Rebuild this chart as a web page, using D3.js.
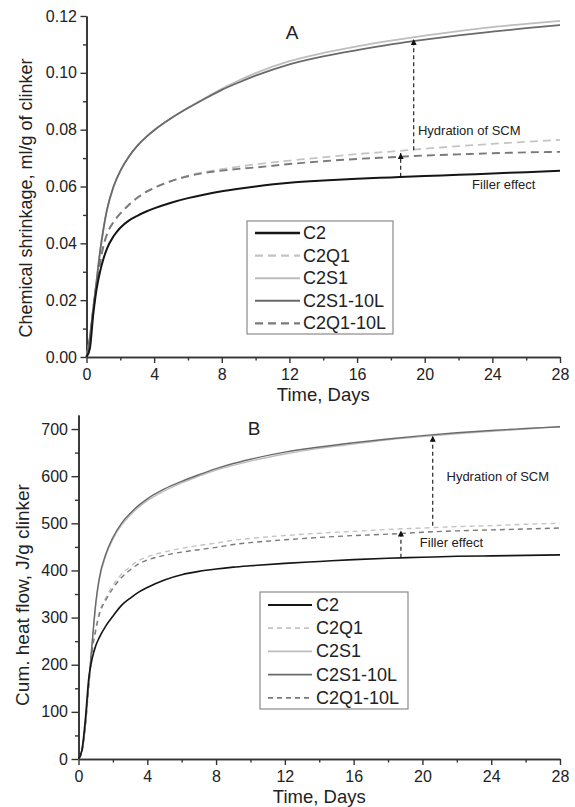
<!DOCTYPE html>
<html>
<head>
<meta charset="utf-8">
<script src="https://cdn.jsdelivr.net/npm/d3@7"></script>
<style>
  html, body { margin: 0; padding: 0; background: #fff; }
  svg { display: block; }
  text { font-family: "Liberation Sans", Arial, Helvetica, sans-serif; fill: #222; }
</style>
</head>
<body>
<svg id="chart" width="575" height="807"></svg>
<script>
// ---------------- DATA ----------------
const seriesNames = ["C2", "C2Q1", "C2S1", "C2S1-10L", "C2Q1-10L"];
const days = [0, 0.2, 0.4, 0.6, 0.8, 1.0, 1.2, 1.6, 2, 2.5, 3, 3.5, 4, 5, 6, 7, 8, 9, 10, 12, 14, 16, 18, 20, 22, 24, 26, 28];

// Panel A: chemical shrinkage, ml/g of clinker
const shrinkC2     = [0, 0.003, 0.015, 0.024, 0.030, 0.0345, 0.038, 0.0425, 0.0455, 0.048, 0.0497, 0.0511, 0.0523, 0.0543, 0.0559, 0.0572, 0.0583, 0.0592, 0.0600, 0.0613, 0.0621, 0.0627, 0.0632, 0.0637, 0.0641, 0.0646, 0.0650, 0.0655];
const shrinkC2Q1   = [0, 0.006, 0.017, 0.026, 0.033, 0.039, 0.0430, 0.0475, 0.0505, 0.0535, 0.0560, 0.0580, 0.0595, 0.0619, 0.0638, 0.0651, 0.0661, 0.0670, 0.0678, 0.0691, 0.0703, 0.0714, 0.0723, 0.0733, 0.0742, 0.0750, 0.0757, 0.0764];
const shrinkC2S1   = [0, 0.007, 0.017, 0.027, 0.037, 0.045, 0.0515, 0.0600, 0.0655, 0.0705, 0.0743, 0.0773, 0.0798, 0.0840, 0.0877, 0.0911, 0.0944, 0.0973, 0.0999, 0.1041, 0.1070, 0.1093, 0.1113, 0.1131, 0.1147, 0.1161, 0.1172, 0.1183];
const shrinkC2S1L  = [0, 0.007, 0.017, 0.027, 0.037, 0.045, 0.0515, 0.0600, 0.0655, 0.0705, 0.0743, 0.0773, 0.0798, 0.0840, 0.0876, 0.0909, 0.0940, 0.0966, 0.0990, 0.1030, 0.1058, 0.1080, 0.1100, 0.1117, 0.1132, 0.1145, 0.1157, 0.1168];
const shrinkC2Q1L  = [0, 0.006, 0.017, 0.026, 0.033, 0.039, 0.0430, 0.0475, 0.0505, 0.0535, 0.0560, 0.0580, 0.0595, 0.0619, 0.0636, 0.0648, 0.0656, 0.0662, 0.0667, 0.0679, 0.0689, 0.0697, 0.0703, 0.0709, 0.0713, 0.0717, 0.0720, 0.0722];

// Panel B: cumulative heat flow, J/g clinker
const heatC2     = [0, 19, 85, 172, 214, 240, 257, 283, 303, 326, 341, 354, 364, 380, 391, 398, 403, 407, 410, 415, 419, 423, 426, 428, 430, 431, 432, 433];
const heatC2Q1   = [0, 15, 70, 158, 235, 277, 310, 343, 368, 392, 408, 421, 429, 439, 447, 453, 458, 464, 468, 474, 479, 483, 487, 490, 493, 495, 498, 500];
const heatC2S1   = [0, 18, 72, 160, 245, 325, 378, 432, 466, 496, 517, 534, 548, 569, 586, 600, 613, 623, 632, 647, 659, 668, 677, 684, 690, 695, 700, 705];
const heatC2S1L  = [0, 19, 75, 165, 250, 330, 382, 436, 470, 500, 521, 538, 552, 573, 589, 603, 616, 627, 636, 651, 662, 671, 679, 686, 692, 697, 701, 705];
const heatC2Q1L  = [0, 15, 70, 155, 230, 272, 305, 338, 362, 385, 401, 414, 422, 432, 439, 444, 449, 455, 459, 465, 470, 474, 477, 481, 484, 486, 488, 490];

// Tick values
const xTicks = [0, 4, 8, 12, 16, 20, 24, 28];
const xMinorTicks = [2, 6, 10, 14, 18, 22, 26];
const shrinkTicks = [0, 0.02, 0.04, 0.06, 0.08, 0.10, 0.12];
const shrinkMinorTicks = [0.01, 0.03, 0.05, 0.07, 0.09, 0.11];
const heatTicks = [0, 100, 200, 300, 400, 500, 600, 700];
const heatMinorTicks = [50, 150, 250, 350, 450, 550, 650];

// Annotation arrows: [day, from value, to value]
const shrinkArrowSCM = [19.35, 0.0728, 0.1126];
const shrinkArrowFiller = [18.58, 0.0634, 0.0725];
const heatArrowSCM = [20.6, 495, 690];
const heatArrowFiller = [18.75, 427, 489];
const annotationLabels = ["Hydration of SCM", "Filler effect"];

// ---------------- DRAWING ----------------
const svg = d3.select("#chart");
const FONT = '"Liberation Sans", Arial, Helvetica, sans-serif';

svg.append("defs").append("marker")
  .attr("id", "arrowhead")
  .attr("viewBox", "0 0 10 10")
  .attr("refX", 5).attr("refY", 0)
  .attr("markerWidth", 6).attr("markerHeight", 9)
  .attr("markerUnits", "userSpaceOnUse")
  .attr("orient", "0")
  .append("path")
  .attr("d", "M0,10 L5,0 L10,10 Z")
  .attr("fill", "#111");

const styles = {
  "C2":       { color: "#151515", dashA: null,  dashB: null,  wA: 2.0, wB: 1.6 },
  "C2Q1":     { color: "#c4c4c4", dashA: "8,5", dashB: "5,4", wA: 1.8, wB: 1.4 },
  "C2S1":     { color: "#bdbdbd", dashA: null,  dashB: null,  wA: 1.8, wB: 1.4 },
  "C2S1-10L": { color: "#6a6a6a", dashA: null,  dashB: null,  wA: 1.8, wB: 1.4 },
  "C2Q1-10L": { color: "#7a7a7a", dashA: "8,5", dashB: "5,4", wA: 1.9, wB: 1.4 }
};
const drawOrder = ["C2Q1", "C2S1", "C2Q1-10L", "C2S1-10L", "C2"];

function drawPanel(cfg) {
  const x = d3.scaleLinear().domain([0, 28]).range([cfg.left, cfg.right]);
  const y = d3.scaleLinear().domain(cfg.yDomain).range([cfg.yBottom, cfg.yTop]);
  const g = svg.append("g");

  // axes
  const xAxis = g.append("g").attr("transform", `translate(0,${cfg.yBottom})`)
    .call(d3.axisBottom(x).tickValues(xTicks).tickSize(6).tickSizeOuter(0).tickPadding(6).tickFormat(d3.format("d")));
  const xMinor = g.append("g").attr("transform", `translate(0,${cfg.yBottom})`)
    .call(d3.axisBottom(x).tickValues(xMinorTicks).tickSize(3.5).tickSizeOuter(0).tickFormat(""));
  const yAxis = g.append("g").attr("transform", `translate(${cfg.left},0)`)
    .call(d3.axisLeft(y).tickValues(cfg.yTicks).tickSize(cfg.tickLen).tickSizeOuter(0).tickPadding(3.5).tickFormat(cfg.yFormat));
  const yMinor = g.append("g").attr("transform", `translate(${cfg.left},0)`)
    .call(d3.axisLeft(y).tickValues(cfg.yMinorTicks).tickSize(3.5).tickSizeOuter(0).tickFormat(""));
  [xAxis, xMinor, yAxis, yMinor].forEach(a => {
    a.selectAll("path.domain").attr("stroke", "#333").attr("stroke-width", 1.6);
    a.selectAll(".tick line").attr("stroke", "#333").attr("stroke-width", 1.4);
    a.selectAll("text").attr("font-family", FONT).attr("font-size", cfg.tickFont).attr("fill", "#222");
  });

  // series lines
  const line = d3.line().x((d, i) => x(days[i])).y(d => y(d)).curve(d3.curveMonotoneX);
  drawOrder.forEach(name => {
    const s = styles[name];
    g.append("path")
      .datum(cfg.values[name])
      .attr("d", line)
      .attr("fill", "none")
      .attr("stroke", s.color)
      .attr("stroke-width", cfg.panel === "A" ? s.wA : s.wB)
      .attr("stroke-dasharray", cfg.panel === "A" ? s.dashA : s.dashB)
      .attr("stroke-linejoin", "round");
  });

  // annotation arrows
  [cfg.arrowSCM, cfg.arrowFiller].forEach(a => {
    g.append("line")
      .attr("x1", x(a[0])).attr("x2", x(a[0]))
      .attr("y1", y(a[1])).attr("y2", y(a[2]) + 2)
      .attr("stroke", "#111").attr("stroke-width", 1.1)
      .attr("stroke-dasharray", "4,3")
      .attr("marker-end", "url(#arrowhead)");
  });
  g.append("text").attr("x", x(cfg.scmLabel[0])).attr("y", y(cfg.scmLabel[1]))
    .attr("font-size", 13).attr("dominant-baseline", "middle").text(annotationLabels[0]);
  g.append("text").attr("x", x(cfg.fillerLabel[0])).attr("y", y(cfg.fillerLabel[1]))
    .attr("font-size", 13).attr("dominant-baseline", "middle").text(annotationLabels[1]);

  // panel letter
  g.append("text").attr("x", cfg.letterPos[0]).attr("y", cfg.letterPos[1])
    .attr("text-anchor", "middle").attr("font-size", 19).text(cfg.panel);

  // axis titles
  g.append("text").attr("x", (cfg.left + cfg.right) / 2).attr("y", cfg.xTitleY)
    .attr("text-anchor", "middle").attr("font-size", 18.5).text("Time, Days");
  g.append("text")
    .attr("transform", `translate(${cfg.yTitleX},${cfg.yTitleY}) rotate(-90)`)
    .attr("text-anchor", "middle").attr("dominant-baseline", "middle")
    .attr("font-size", cfg.yTitleFont).text(cfg.yTitle);

  // legend
  const lg = cfg.legend;
  g.append("rect").attr("x", lg.x).attr("y", lg.y).attr("width", lg.w).attr("height", lg.h)
    .attr("fill", "#fff").attr("stroke", "#8a8a8a").attr("stroke-width", 1.2);
  seriesNames.forEach((name, i) => {
    const s = styles[name];
    const yy = lg.firstRow + i * lg.rowGap;
    g.append("line").attr("x1", lg.lineX1).attr("x2", lg.lineX2).attr("y1", yy).attr("y2", yy)
      .attr("stroke", s.color)
      .attr("stroke-width", cfg.panel === "A" ? s.wA + 0.3 : s.wB + 0.3)
      .attr("stroke-dasharray", cfg.panel === "A" ? s.dashA : s.dashB);
    g.append("text").attr("x", lg.textX).attr("y", yy).attr("dominant-baseline", "central")
      .attr("font-size", 18).text(name);
  });
}

drawPanel({
  panel: "A",
  left: 86.5, right: 560, yTop: 16, yBottom: 357,
  yDomain: [0, 0.12], yTicks: shrinkTicks, yMinorTicks: shrinkMinorTicks,
  yFormat: d3.format(".2f"), tickLen: 6, tickFont: 16,
  values: { "C2": shrinkC2, "C2Q1": shrinkC2Q1, "C2S1": shrinkC2S1, "C2S1-10L": shrinkC2S1L, "C2Q1-10L": shrinkC2Q1L },
  arrowSCM: shrinkArrowSCM, arrowFiller: shrinkArrowFiller,
  scmLabel: [19.6, 0.0792], fillerLabel: [22.8, 0.0605],
  letterPos: [292, 39],
  xTitleY: 401,
  yTitle: "Chemical shrinkage, ml/g of clinker", yTitleX: 27, yTitleY: 198, yTitleFont: 18,
  legend: { x: 247, y: 221, w: 146, h: 113, firstRow: 233, rowGap: 22.6, lineX1: 255, lineX2: 300, textX: 303 }
});

drawPanel({
  panel: "B",
  left: 78.5, right: 560, yTop: 414.9, yBottom: 759,
  yDomain: [0, 730], yTicks: heatTicks, yMinorTicks: heatMinorTicks,
  yFormat: d3.format("d"), tickLen: 7, tickFont: 16,
  values: { "C2": heatC2, "C2Q1": heatC2Q1, "C2S1": heatC2S1, "C2S1-10L": heatC2S1L, "C2Q1-10L": heatC2Q1L },
  arrowSCM: heatArrowSCM, arrowFiller: heatArrowFiller,
  scmLabel: [21.4, 597], fillerLabel: [19.85, 457],
  letterPos: [254, 435],
  xTitleY: 803,
  yTitle: "Cum. heat flow, J/g clinker", yTitleX: 24, yTitleY: 595, yTitleFont: 19,
  legend: { x: 260, y: 592, w: 148, h: 117, firstRow: 605, rowGap: 23.2, lineX1: 268, lineX2: 312, textX: 316 }
});
</script>
</body>
</html>
